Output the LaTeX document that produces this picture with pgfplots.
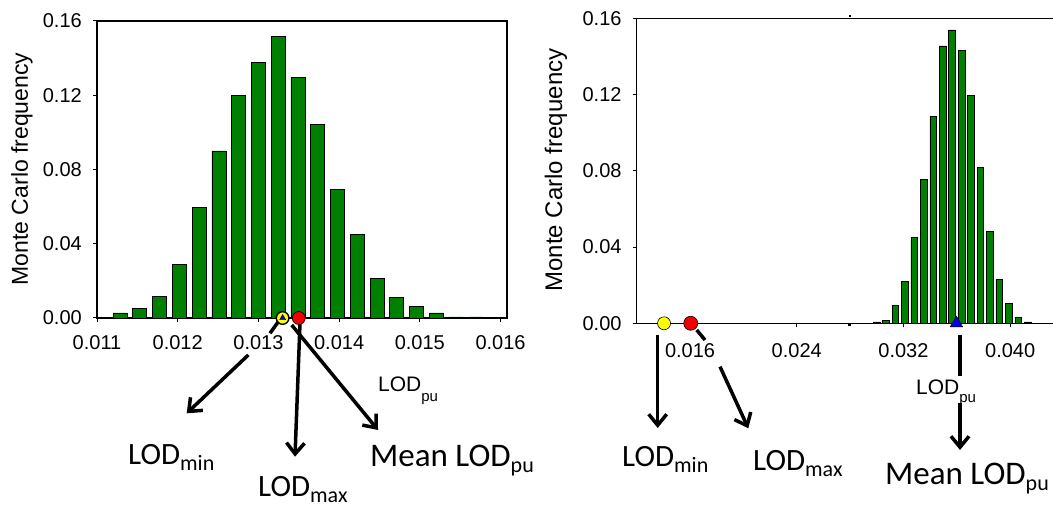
\documentclass[border=0pt]{standalone}
\usepackage{fontspec}
\setmainfont{Liberation Sans}
\newfontfamily\calfont{Carlito}
\usepackage{pgfplots}
\usepackage{pgfplotstable}
\pgfplotsset{compat=1.18}
\usetikzlibrary{arrows.meta}
\definecolor{barg}{RGB}{0,128,0}
\definecolor{myyellow}{RGB}{255,255,0}
\definecolor{myred}{RGB}{240,0,0}
\definecolor{myblue}{RGB}{0,0,230}

\pgfplotstableread{
x y
0.011285 0.0027
0.011530 0.0052
0.011775 0.0118
0.012020 0.0287
0.012265 0.0595
0.012510 0.0900
0.012755 0.1197
0.013000 0.1376
0.013245 0.1518
0.013490 0.1295
0.013735 0.1043
0.013980 0.0692
0.014225 0.0450
0.014470 0.0215
0.014715 0.0111
0.014960 0.0063
0.015205 0.0027
0.015450 0.0006
0.015695 0.0006
}\leftdata

\pgfplotstableread{
x y
0.029980 0.0007
0.030688 0.0016
0.031396 0.0093
0.032104 0.0219
0.032812 0.0449
0.033520 0.0754
0.034228 0.1086
0.034936 0.1455
0.035644 0.1539
0.036352 0.1430
0.037060 0.1196
0.037768 0.0817
0.038476 0.0483
0.039184 0.0231
0.039892 0.0105
0.040600 0.0031
0.041308 0.0007
}\rightdata

\pgfplotsset{mystyle/.style={
  scale only axis, clip=false,
  tick align=outside, major tick length=4pt, tick pos=left,
  axis line style={line width=1.5pt},
  every tick/.style={black, line width=1pt},
  scaled x ticks=false, scaled y ticks=false,
  ymin=0, ymax=0.16, ytick={0,0.04,0.08,0.12,0.16},
  /pgf/number format/assume math mode=true,
  tick label style={font=\fontsize{20}{22}\selectfont, inner sep=0pt},
  yticklabel style={/pgf/number format/fixed, /pgf/number format/fixed zerofill, /pgf/number format/precision=2},
  xticklabel style={/pgf/number format/fixed, /pgf/number format/fixed zerofill, /pgf/number format/precision=3},
  yticklabel style={xshift=-11pt},
}}

\newcommand{\lbl}[3]{{\calfont\fontsize{#1}{#1}\selectfont #2\raisebox{-0.17em}{\fontsize{22}{22}\selectfont #3}}}

\begin{document}
\begin{tikzpicture}[x=1pt,y=1pt]
\useasboundingbox (0,0) rectangle (1053,506);

% annotation arrows (drawn first, markers overlay them)
\begin{scope}[line width=3.5pt, black, arr/.style={-{Straight Barb[length=11pt,width=18pt]}}]
% left chart
\draw (278.3,184.3) -- (270,172.7);
\draw[arr] (248.3,151) -- (186.7,92.7);
\draw[arr] (300,183) -- (295,49.3);
\draw[arr] (291.7,181) -- (378,76);
% right chart
\draw[arr] (657.7,171) -- (657.7,78);
\draw (696.7,176) -- (705,166);
\draw[arr] (720,139.3) -- (748.3,77.7);
\draw (960,171) -- (960,130);
\draw[arr] (960,103) -- (960,56);
\end{scope}

% left chart
\begin{axis}[mystyle, at={(97pt,188pt)}, anchor=south west,
  width=410pt, height=297pt,
  xmin=0.011, xmax=0.01608,
  xtick={0.011,0.012,0.013,0.014,0.015,0.016},
  xticklabel style={yshift=-13pt},
]
\addplot[ybar, bar width=14pt, fill=barg, draw=black, line width=0.7pt] table[x=x,y=y]{\leftdata};
\addplot[only marks, mark=*, mark size=6.5pt, mark options={fill=myred, draw=black, line width=0.6pt}] coordinates {(0.0135,0)};
\addplot[only marks, mark=*, mark size=6.3pt, mark options={fill=myyellow, draw=black, line width=1.4pt}] coordinates {(0.0133,0)};
\addplot[only marks, mark=triangle*, mark size=3.5pt, mark options={fill=myblue, draw=black, line width=0.4pt}] coordinates {(0.0133,0)};
\end{axis}

% right chart
\begin{axis}[mystyle, at={(636.7pt,182.7pt)}, anchor=south west,
  width=426.8pt, height=305pt,
  xmin=0.012, xmax=0.044,
  xtick={0.016,0.024,0.032,0.040},
  xticklabel style={yshift=-16pt},
]
\addplot[ybar, bar width=6.7pt, fill=barg, draw=black, line width=0.6pt] table[x=x,y=y]{\rightdata};
\addplot[only marks, mark=*, mark size=6.5pt, mark options={fill=myyellow, draw=black, line width=0.6pt}] coordinates {(0.01405,0)};
\addplot[only marks, mark=*, mark size=7pt, mark options={fill=myred, draw=black, line width=0.6pt}] coordinates {(0.01605,0)};
\addplot[only marks, mark=triangle*, mark size=7.3pt, mark options={fill=myblue, draw=black, line width=0.4pt}] coordinates {(0.03597,0)};
\end{axis}

% small break marks on right chart
\fill (848,179.5) rectangle (851,182.5);
\fill (848.5,488.5) rectangle (850.5,490.5);

% axis titles
\node[rotate=90, inner sep=0, font=\fontsize{23}{25}\selectfont] at (22,337) {Monte Carlo frequency};
\node[rotate=90, inner sep=0, font=\fontsize{24}{26}\selectfont] at (556,336) {Monte Carlo frequency};
\node[anchor=base west, inner sep=0, font=\fontsize{21}{23}\selectfont] at (378,114.3) {LOD\raisebox{-10pt}{\fontsize{15}{15}\selectfont pu}};
\node[anchor=base west, inner sep=0, font=\fontsize{21}{23}\selectfont] at (916,111) {LOD\raisebox{-8pt}{\fontsize{15}{15}\selectfont pu}};

% bottom labels
\node[anchor=base west, inner sep=0] at (128,41) {\lbl{31}{LOD}{min}};
\node[anchor=base west, inner sep=0] at (258,9) {\lbl{31}{LOD}{max}};
\node[anchor=base west, inner sep=0] at (370,39) {\lbl{33}{Mean LOD}{pu}};
\node[anchor=base west, inner sep=0] at (622,39) {\lbl{31}{LOD}{min}};
\node[anchor=base west, inner sep=0] at (753,35) {\lbl{31}{LOD}{max}};
\node[anchor=base west, inner sep=0] at (885,21) {\lbl{33}{Mean LOD}{pu}};
\end{tikzpicture}
\end{document}
